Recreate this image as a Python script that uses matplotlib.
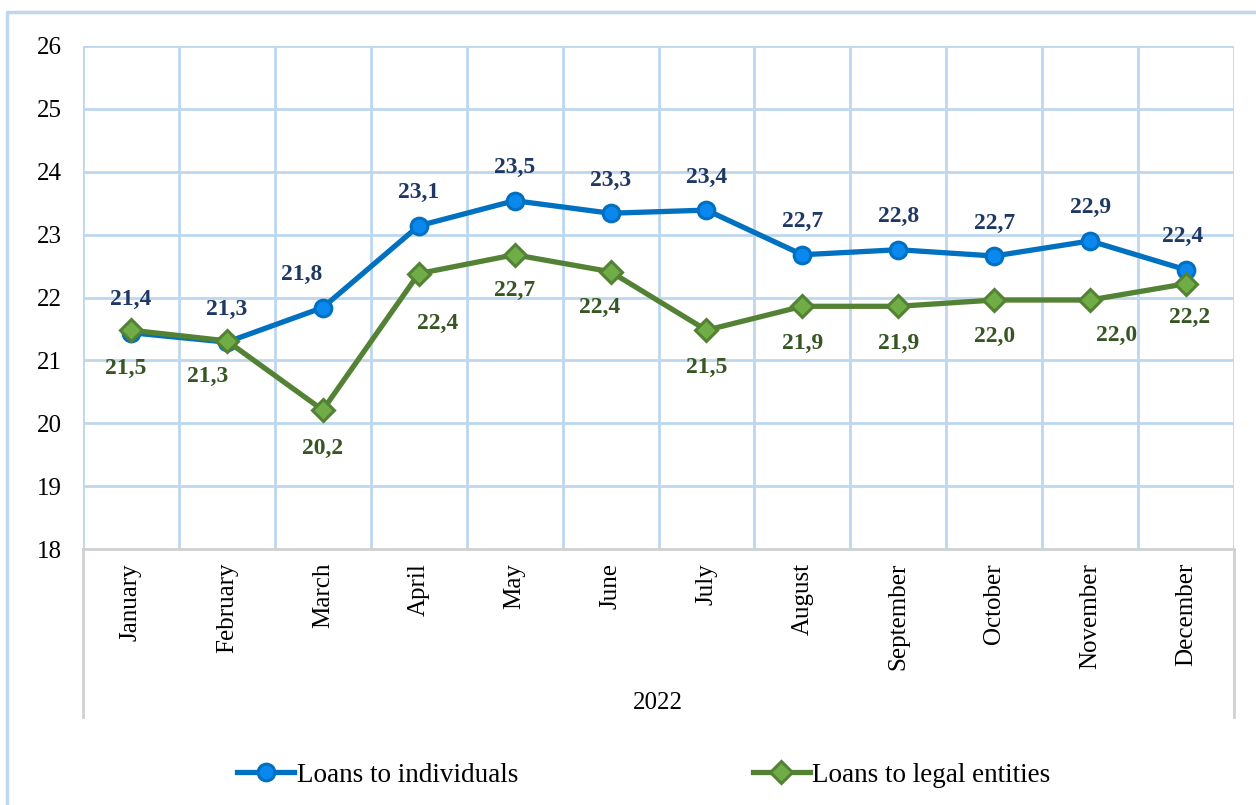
import matplotlib
matplotlib.use("Agg")
import matplotlib.pyplot as plt
from matplotlib.lines import Line2D

months = ["January", "February", "March", "April", "May", "June", "July",
          "August", "September", "October", "November", "December"]
individuals = [21.44, 21.29, 21.84, 23.14, 23.54, 23.34, 23.39, 22.68, 22.76, 22.66, 22.90, 22.44]
legal = [21.48, 21.31, 20.21, 22.38, 22.68, 22.41, 21.48, 21.86, 21.86, 21.96, 21.96, 22.22]
year_label = "2022"
series_names = ["Loans to individuals", "Loans to legal entities"]

# label nudges (pixels), as placed in the original
ind_dx = [0, 0, -21, 0, 0, 0, 0, 0, 0, 0, 0, -3]
leg_dx = [-5, -19, 0, 19, 0, -11, 0, 0, 0, 0, 26, 4]
leg_dy = [-38, -36, -38, -50, -36, -36, -37, -37, -37, -36, -35, -34]

plt.rcParams['font.family'] = ['Liberation Serif', 'DejaVu Serif']

W, H = 1256, 805
fig = plt.figure(figsize=(W / 100, H / 100), dpi=100)

grid_c = '#bdd7ee'
axis_c = '#d0d0d0'

left, right, top, bottom = 83, 1234, 46, 549
ax = fig.add_axes([left / W, 1 - bottom / H, (right - left) / W, (bottom - top) / H])

x = list(range(len(months)))
ax.plot(x, individuals, color='#0070c0', lw=3.8, marker='o', ms=12,
        mfc='#0a88ee', mec='#0070c0', mew=2.2, zorder=3, label=series_names[0])
ax.plot(x, legal, color='#548235', lw=3.8, marker='D', ms=11,
        mfc='#70ad47', mec='#548235', mew=2.2, zorder=4, label=series_names[1])

for i, v in enumerate(individuals):
    ax.annotate(f"{v:.1f}".replace('.', ','), (i, v), xytext=(ind_dx[i], 33),
                textcoords='offset pixels', ha='center', va='center',
                fontsize=17, fontweight='bold', color='#1f3864')
for i, v in enumerate(legal):
    ax.annotate(f"{v:.1f}".replace('.', ','), (i, v), xytext=(leg_dx[i], leg_dy[i]),
                textcoords='offset pixels', ha='center', va='center',
                fontsize=17, fontweight='bold', color='#375623')

ax.set_xlim(-0.5, len(months) - 0.5)
ax.set_ylim(18, 26)
ax.set_yticks(range(18, 27))
ax.set_xticks(x)
ax.set_xticklabels(months, rotation=90, va='top', ha='center')
ax.tick_params(axis='both', length=0, labelsize=18)
ax.tick_params(axis='x', pad=10)
ax.tick_params(axis='y', pad=15)

for yv in range(19, 27):
    ax.axhline(yv, color=grid_c, lw=2, zorder=1)
for xv in range(len(months) + 1):
    ax.axvline(xv - 0.5, color=grid_c, lw=2, zorder=1)
for s in ['top', 'right', 'left']:
    ax.spines[s].set_visible(False)
ax.spines['bottom'].set_color(axis_c)
ax.spines['bottom'].set_linewidth(2)

# group lines below the axis
for px in (left, right):
    fig.add_artist(Line2D([px / W, px / W], [1 - bottom / H, 1 - 717 / H],
                          color=axis_c, lw=2))
fig.text(658 / W, 1 - 703 / H, year_label, ha='center', va='center', fontsize=18)

# outer frame
fig.add_artist(Line2D([7 / W, 7 / W, 1.0], [0.0, 1 - 12 / H, 1 - 12 / H],
                      color=grid_c, lw=2.5))

fig.legend(loc='center', bbox_to_anchor=(644 / W, 1 - 775 / H), ncol=2,
           frameon=False, fontsize=19.5, handlelength=2.1, handletextpad=0.1,
           columnspacing=8.65, borderpad=0)

fig.savefig('out.png', dpi=100)
